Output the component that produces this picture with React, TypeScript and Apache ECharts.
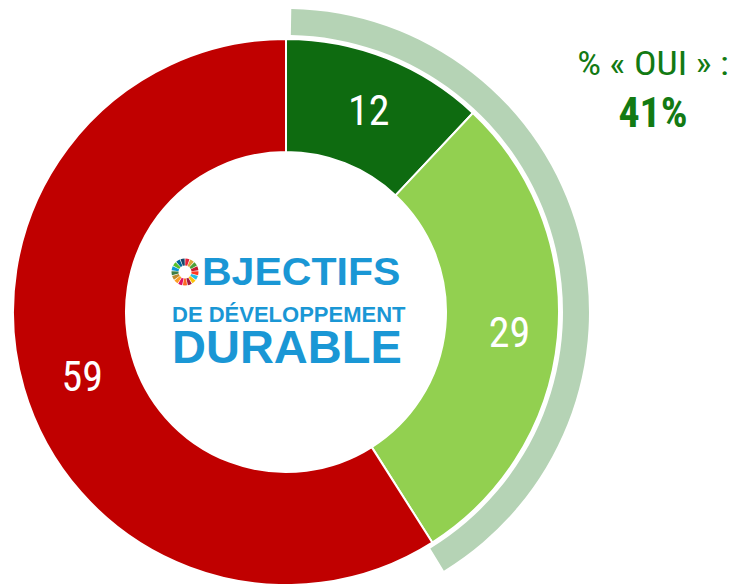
import React, { useEffect, useRef } from "react";
import * as echarts from "echarts";

const categories = ["Oui, tout à fait", "Oui, plutôt", "Non"];
const values = [12, 29, 59];
const sliceColors = ["#0e6b10", "#92d050", "#c00000"];
const yesShare = "41%";
const yesTitle = "% « OUI » :";
const logoLines = ["BJECTIFS", "DE DÉVELOPPEMENT", "DURABLE"];
const sdgColors = [
  "#E5243B", "#DDA63A", "#4C9F38", "#C5192D", "#FF3A21", "#26BDE2",
  "#FCC30B", "#A21942", "#FD6925", "#DD1367", "#FD9D24", "#BF8B2E",
  "#3F7E44", "#0A97D9", "#56C02B", "#00689D", "#19486A",
];
const labelOffsets = [[2, 3], [5, 0], [7, 3]];

const COND = "'Roboto Condensed', Roboto, sans-serif";
const LOGO = "'Liberation Sans', Arial, sans-serif";

export default function App() {
  const ref = useRef<HTMLDivElement>(null);
  useEffect(() => {
    document.body.style.margin = "0";
    const chart = echarts.init(ref.current!, null, { renderer: "svg" });
    const cx = 286;
    const cy = 312;
    const wheel: any[] = [];
    const n = sdgColors.length;
    const wcx = 185, wcy = 272;
    for (let i = 0; i < n; i++) {
      const a0 = -Math.PI / 2 + (i * 2 * Math.PI) / n + 0.03;
      const a1 = -Math.PI / 2 + ((i + 1) * 2 * Math.PI) / n - 0.03;
      wheel.push({
        type: "sector",
        shape: { cx: wcx, cy: wcy, r: 13.5, r0: 6.5, startAngle: a0, endAngle: a1 },
        style: { fill: sdgColors[i] },
      });
    }
    const yesTotal = values[0] + values[1];
    const noTotal = values[2];
    chart.setOption({
      animation: false,
      series: [
        {
          type: "pie",
          center: [cx, cy],
          radius: [277, 303],
          startAngle: 89,
          clockwise: true,
          silent: true,
          itemStyle: { borderWidth: 0 },
          label: { show: false },
          labelLine: { show: false },
          data: [
            { name: "Oui", value: yesTotal, itemStyle: { color: "#b5d3b5" } },
            { name: "Non", value: noTotal, itemStyle: { color: "rgba(0,0,0,0)" } },
          ],
        },
        {
          type: "pie",
          center: [cx, cy],
          radius: [160, 273],
          startAngle: 90,
          clockwise: true,
          itemStyle: { borderColor: "#ffffff", borderWidth: 2 },
          label: {
            show: true,
            position: "inside",
            formatter: "{c}",
            color: "#ffffff",
            fontSize: 42,
            fontFamily: COND,
          },
          labelLine: { show: false },
          data: values.map((v, i) => ({
            name: categories[i],
            value: v,
            itemStyle: { color: sliceColors[i] },
            label: { offset: labelOffsets[i] },
          })),
        },
      ],
      graphic: [
        ...wheel,
        {
          type: "text",
          x: 202,
          y: 272,
          scaleX: 1.08,
          style: {
            text: logoLines[0],
            fill: "#1a97d5",
            font: `bold 38px ${LOGO}`,
            textVerticalAlign: "middle",
            textAlign: "left",
          },
        },
        {
          type: "text",
          x: 172,
          y: 302,
          style: {
            text: `{a|${logoLines[1]}}\n{b|${logoLines[2]}}`,
            textVerticalAlign: "top",
            textAlign: "left",
            rich: {
              a: {
                fill: "#1a97d5",
                font: `bold 22px ${LOGO}`,
                lineHeight: 24,
                fontWeight: "bold",
                fontSize: 22,
                fontFamily: LOGO,
              },
              b: {
                fill: "#1a97d5",
                font: `bold 47px ${LOGO}`,
                lineHeight: 40,
                fontWeight: "bold",
                fontSize: 47,
                fontFamily: LOGO,
              },
            },
          },
        },
        {
          type: "text",
          x: 653,
          y: 64,
          scaleX: 1.14,
          style: {
            text: yesTitle,
            fill: "#137a13",
            font: `33px ${COND}`,
            textAlign: "center",
            textVerticalAlign: "middle",
          },
        },
        {
          type: "text",
          x: 653,
          y: 112,
          style: {
            text: yesShare,
            fill: "#137a13",
            font: `bold 42px ${COND}`,
            textAlign: "center",
            textVerticalAlign: "middle",
          },
        },
      ],
    });
    return () => chart.dispose();
  }, []);
  return <div ref={ref} style={{ width: 743, height: 584 }} />;
}
